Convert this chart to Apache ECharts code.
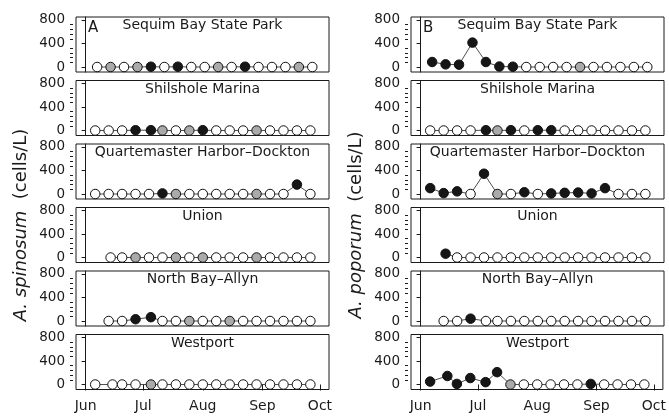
<!DOCTYPE html>
<html><head><meta charset="utf-8">
<script src="https://cdn.jsdelivr.net/npm/echarts@6/dist/echarts.min.js"></script>
<style>html,body{margin:0;padding:0;background:#fff}#c{width:669px;height:416px}</style>
</head><body><div id="c"></div>
<script>
// ---------- data ----------
const SITES = ["Sequim Bay State Park", "Shilshole Marina", "Quartemaster Harbor–Dockton", "Union", "North Bay–Allyn", "Westport"];
const PANEL_LETTERS = ["A", "B"];
const SPECIES_LABELS = ["A. spinosum", "A. poporum"];
const MONTH_TICKS = [0, 30, 61, 92, 122];            // days after 1 June
const MONTH_LABELS = ["Jun", "Jul", "Aug", "Sep", "Oct"];
const Y_TICKS = [0, 400, 800];
const Y_MINOR_TICKS = [80, 160, 240, 320, 480, 560, 640, 720];

// sampling dates (days after 1 June)
const daysSequim      = [6, 13, 20, 27, 34, 41, 48, 55, 62, 69, 76, 83, 90, 97, 104, 111, 118];
const daysShilshole   = [5, 12, 19, 26, 34, 40, 47, 54, 61, 68, 75, 82, 89, 96, 103, 110, 117];
const daysQuartermast = [5, 12, 19, 26, 33, 40, 47, 54, 61, 68, 75, 82, 89, 96, 103, 110, 117];
const daysUnion       = [13, 19, 26, 33, 40, 47, 54, 61, 68, 75, 82, 89, 96, 103, 110, 117];
const daysNorthBay    = [12, 19, 26, 34, 40, 47, 54, 61, 68, 75, 82, 89, 96, 103, 110, 117];
const daysWestport    = [5, 14, 19, 26, 34, 40, 47, 54, 61, 68, 75, 82, 89, 96, 103, 110, 117];

// status: 0 = not detected (white), 1 = detected, not counted (grey), 2 = counted (black)
// A. spinosum (cells/L)
const spinSequimVal   = [0, 0, 0, 0, 5, 0, 5, 0, 0, 0, 0, 5, 0, 0, 0, 0, 0];
const spinSequimSt    = [0, 1, 0, 1, 2, 0, 2, 0, 0, 1, 0, 2, 0, 0, 0, 1, 0];
const spinShilsholeVal= [0, 0, 0, 5, 5, 0, 0, 0, 5, 0, 0, 0, 0, 0, 0, 0, 0];
const spinShilsholeSt = [0, 0, 0, 2, 2, 1, 0, 1, 2, 0, 0, 0, 1, 0, 0, 0, 0];
const spinQuartVal    = [0, 0, 0, 0, 0, 10, 0, 0, 0, 0, 0, 0, 0, 0, 0, 160, 0];
const spinQuartSt     = [0, 0, 0, 0, 0, 2, 1, 0, 0, 0, 0, 0, 1, 0, 0, 2, 0];
const spinUnionVal    = [0, 0, 0, 0, 0, 0, 0, 0, 0, 0, 0, 0, 0, 0, 0, 0];
const spinUnionSt     = [0, 0, 1, 0, 0, 1, 0, 1, 0, 0, 0, 1, 0, 0, 0, 0];
const spinNorthBayVal = [0, 0, 30, 65, 0, 0, 0, 0, 0, 0, 0, 0, 0, 0, 0, 0];
const spinNorthBaySt  = [0, 0, 2, 2, 0, 0, 1, 0, 0, 1, 0, 0, 0, 0, 0, 0];
const spinWestportVal = [0, 0, 0, 0, 0, 0, 0, 0, 0, 0, 0, 0, 0, 0, 0, 0, 0];
const spinWestportSt  = [0, 0, 0, 0, 1, 0, 0, 0, 0, 0, 0, 0, 0, 0, 0, 0, 0];

// A. poporum (cells/L)
const popSequimVal    = [85, 45, 40, 415, 85, 8, 5, 0, 0, 0, 0, 0, 0, 0, 0, 0, 0];
const popSequimSt     = [2, 2, 2, 2, 2, 2, 2, 0, 0, 0, 0, 1, 0, 0, 0, 0, 0];
const popShilsholeVal = [0, 0, 0, 0, 5, 0, 5, 0, 5, 5, 0, 0, 0, 0, 0, 0, 0];
const popShilsholeSt  = [0, 0, 0, 0, 2, 1, 2, 0, 2, 2, 0, 0, 0, 0, 0, 0, 0];
const popQuartVal     = [100, 15, 45, 0, 345, 0, 0, 30, 0, 10, 20, 25, 10, 100, 0, 0, 0];
const popQuartSt      = [2, 2, 2, 0, 2, 1, 0, 2, 0, 2, 2, 2, 2, 2, 0, 0, 0];
const popUnionVal     = [65, 0, 0, 0, 0, 0, 0, 0, 0, 0, 0, 0, 0, 0, 0, 0];
const popUnionSt      = [2, 0, 0, 0, 0, 0, 0, 0, 0, 0, 0, 0, 0, 0, 0, 0];
const popNorthBayVal  = [0, 0, 40, 0, 0, 0, 0, 0, 0, 0, 0, 0, 0, 0, 0, 0];
const popNorthBaySt   = [0, 0, 2, 0, 0, 0, 0, 0, 0, 0, 0, 0, 0, 0, 0, 0];
const popWestportVal  = [50, 145, 10, 110, 40, 210, 0, 0, 0, 0, 0, 0, 10, 0, 0, 0, 0];
const popWestportSt   = [2, 2, 2, 2, 2, 2, 1, 0, 0, 0, 0, 0, 2, 0, 0, 0, 0];

// ---------- assembly ----------
const siteDays = [daysSequim, daysShilshole, daysQuartermast, daysUnion, daysNorthBay, daysWestport];
const speciesVals = [
  [spinSequimVal, spinShilsholeVal, spinQuartVal, spinUnionVal, spinNorthBayVal, spinWestportVal],
  [popSequimVal, popShilsholeVal, popQuartVal, popUnionVal, popNorthBayVal, popWestportVal]
];
const speciesSt = [
  [spinSequimSt, spinShilsholeSt, spinQuartSt, spinUnionSt, spinNorthBaySt, spinWestportSt],
  [popSequimSt, popShilsholeSt, popQuartSt, popUnionSt, popNorthBaySt, popWestportSt]
];

const FILLS = ['#ffffff', '#aaaaaa', '#161616'];
const INK = '#1a1a1a';
const FONT = '"DejaVu Sans", sans-serif';
const GRID_LEFT = [76, 411], GRID_W = 253, TOP0 = 17, STEP = 63.5, GRID_H = 55;
const YMIN = -85, YMAX = 851, XMIN = -5, XMAX = 126.7;

const grids = [], xAxes = [], yAxes = [], series = [], graphics = [];
let g = 0;
for (let c = 0; c < 2; c++) {
  for (let r = 0; r < 6; r++) {
    const top = TOP0 + r * STEP;
    grids.push({ left: GRID_LEFT[c], top: top, width: GRID_W, height: GRID_H,
      show: true, borderColor: INK, borderWidth: 1, backgroundColor: 'transparent' });
    const last = r === 5;
    xAxes.push({ type: 'value', gridIndex: g, min: XMIN, max: XMAX, position: 'bottom',
      axisLine: { show: false }, splitLine: { show: false },
      axisTick: { show: last, customValues: MONTH_TICKS, length: 6, lineStyle: { color: INK, width: 1 } },
      axisLabel: { show: last, customValues: MONTH_TICKS, margin: 10,
        formatter: v => MONTH_LABELS[MONTH_TICKS.indexOf(v)] || '',
        color: INK, fontSize: 14, fontFamily: FONT } });
    yAxes.push({ type: 'value', gridIndex: g, min: YMIN, max: YMAX, offset: 3, position: 'left',
      axisLine: { show: true, lineStyle: { color: INK, width: 1 } }, splitLine: { show: false },
      axisTick: { show: true, customValues: Y_TICKS, length: 4, lineStyle: { color: INK, width: 1 } },
      axisLabel: { show: true, customValues: Y_TICKS, margin: 8, color: INK, fontSize: 13.5, fontFamily: FONT } });
    yAxes.push({ type: 'value', gridIndex: g, min: YMIN, max: YMAX, offset: 3, position: 'left',
      axisLine: { show: false }, splitLine: { show: false },
      axisTick: { show: true, customValues: Y_MINOR_TICKS, length: 3, lineStyle: { color: INK, width: 1 } },
      axisLabel: { show: false } });
    const days = siteDays[r], vals = speciesVals[c][r], st = speciesSt[c][r];
    series.push({ type: 'line', xAxisIndex: g, yAxisIndex: 2 * g,
      data: days.map((d, i) => ({ value: [d, vals[i]], itemStyle: { color: FILLS[st[i]] } })),
      symbol: 'circle', symbolSize: 9.5, showAllSymbol: true, clip: false,
      itemStyle: { borderColor: '#111', borderWidth: 1 },
      lineStyle: { color: '#222', width: 0.8 }, silent: true, z: 3 });
    graphics.push({ type: 'text', x: GRID_LEFT[c] + GRID_W / 2, y: top + 8.5,
      style: { text: SITES[r], fill: INK, font: '14px ' + FONT,
        textAlign: 'center', align: 'center', textVerticalAlign: 'middle', verticalAlign: 'middle' } });
    g++;
  }
  graphics.push({ type: 'text', x: GRID_LEFT[c] + 12, y: TOP0 + 11,
    style: { text: PANEL_LETTERS[c], fill: INK, font: '15px ' + FONT,
      textAlign: 'left', align: 'left', textVerticalAlign: 'middle', verticalAlign: 'middle' } });
  graphics.push({ type: 'text', x: 21.5 + 335 * c, y: 225, rotation: Math.PI / 2,
    style: { text: '{i|' + SPECIES_LABELS[c] + '}  (cells/L)', fill: INK, font: '18px ' + FONT,
      rich: { i: { fontStyle: 'italic', fontSize: 18, fontFamily: FONT, fill: INK, color: INK } },
      textAlign: 'center', align: 'center', textVerticalAlign: 'middle', verticalAlign: 'middle' } });
}

const chart = echarts.init(document.getElementById('c'), null, { renderer: 'canvas' });
chart.setOption({
  animation: false,
  backgroundColor: '#ffffff',
  textStyle: { fontFamily: FONT },
  grid: grids, xAxis: xAxes, yAxis: yAxes, series: series,
  graphic: graphics
});
</script>
</body></html>
